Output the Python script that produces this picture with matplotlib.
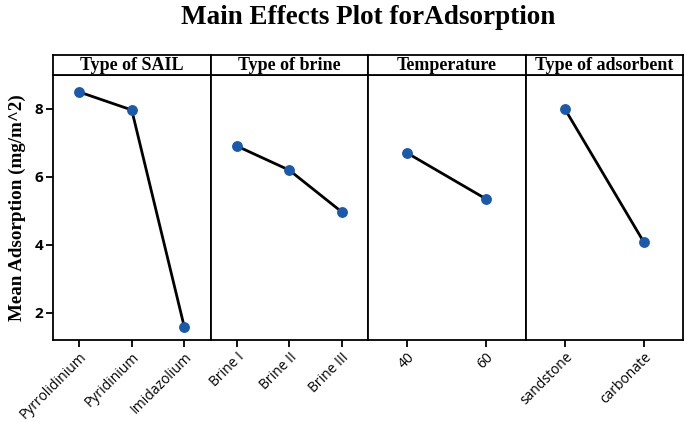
import matplotlib.pyplot as plt

# main effects for adsorption
factors = ['Type of SAIL', 'Type of brine', 'Temperature', 'Type of adsorbent']
levels = [
    ['Pyrrolidinium', 'Pyridinium', 'Imidazolium'],
    ['Brine I', 'Brine II', 'Brine III'],
    ['40', '60'],
    ['sandstone', 'carbonate'],
]
sail_means = [8.50, 7.97, 1.59]
brine_means = [6.91, 6.20, 4.97]
temp_means = [6.70, 5.35]
adsorbent_means = [8.00, 4.09]
means = [sail_means, brine_means, temp_means, adsorbent_means]

W, H = 685, 422
fig = plt.figure(figsize=(W / 100, H / 100), dpi=100)

left, right = 53 / W, 683 / W
bottom, top = 1 - 340 / H, 1 - 75 / H
strip_top = 1 - 55 / H
pw = (right - left) / 4

serif = ['Liberation Serif', 'DejaVu Serif']
sans = ['Open Sans', 'DejaVu Sans']

for i in range(4):
    x0 = left + i * pw
    ax = fig.add_axes([x0, bottom, pw, top - bottom])
    n = len(levels[i])
    pos = list(range(1, n + 1))
    ax.plot(pos, means[i], color='black', lw=2, zorder=2)
    ax.plot(pos, means[i], 'o', color='#1a5aad', ms=6.8, zorder=3)
    ax.set_xlim(0.5, n + 0.5)
    ax.set_ylim(1.2, 9.0)
    ax.set_xticks(pos)
    ax.set_xticklabels(levels[i], rotation=45, ha='right', rotation_mode='anchor',
                       family=sans, fontsize=10)
    ax.tick_params(axis='x', direction='out', length=5, width=1.3, pad=2)
    if i == 0:
        ax.set_yticks([2, 4, 6, 8])
        ax.set_yticklabels(['2', '4', '6', '8'], family=sans, fontsize=11,
                           fontweight='bold')
        ax.tick_params(axis='y', direction='out', length=5, width=1.3, pad=2)
        ax.set_ylabel('Mean Adsorption (mg/m^2)', family=serif, fontsize=13.7,
                      fontweight='bold', labelpad=6)
    else:
        ax.set_yticks([])
    for s in ax.spines.values():
        s.set_linewidth(1.3)

    hx = fig.add_axes([x0, top, pw, strip_top - top])
    hx.set_xticks([])
    hx.set_yticks([])
    for s in hx.spines.values():
        s.set_linewidth(1.3)
    hx.text(0.5, 0.45, factors[i], ha='center', va='center', family=serif,
            fontsize=13, fontweight='bold', transform=hx.transAxes)

fig.text((left + right) / 2, 1 - 18 / H, 'Main Effects Plot forAdsorption',
         ha='center', va='center', family=serif, fontsize=19.5, fontweight='bold')

fig.savefig('out.png', dpi=100)
